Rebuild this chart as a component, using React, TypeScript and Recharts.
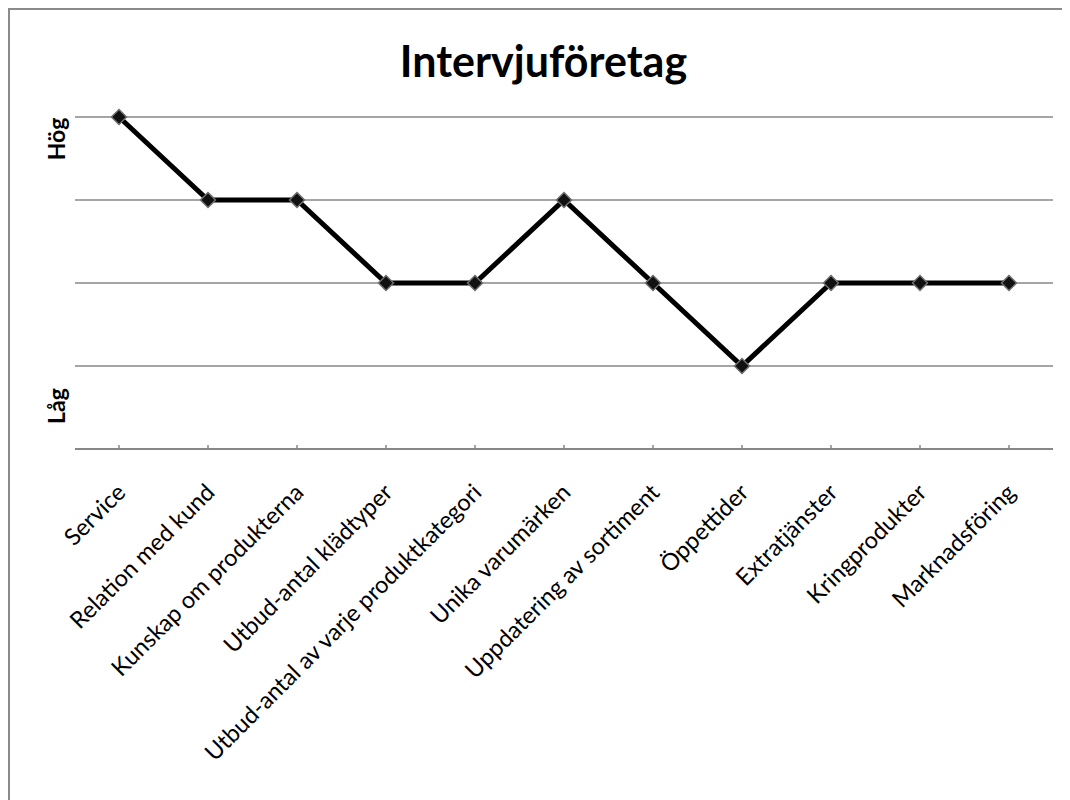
import { LineChart, Line, XAxis, YAxis, CartesianGrid } from "recharts";

const categories = [
  "Service",
  "Relation med kund",
  "Kunskap om produkterna",
  "Utbud-antal klädtyper",
  "Utbud-antal av varje produktkategori",
  "Unika varumärken",
  "Uppdatering av sortiment",
  "Öppettider",
  "Extratjänster",
  "Kringprodukter",
  "Marknadsföring",
];

const ratings = [4, 3, 3, 2, 2, 3, 2, 1, 2, 2, 2];

const levelTicks = [0, 1, 2, 3, 4];

const data = categories.map((name, i) => ({ name, value: ratings[i] }));

const GRID = "#878787";
const FONT = "Lato, 'Open Sans', sans-serif";

function CategoryTick(props: any) {
  const { x, y, payload } = props;
  const tx = x + 8;
  const ty = y + 45;
  return (
    <g>
      <line x1={x} y1={y} x2={x} y2={y - 4} stroke={GRID} strokeWidth={1.5} />
      <text
        x={tx}
        y={ty}
        textAnchor="end"
        transform={`rotate(-45, ${tx}, ${ty})`}
        fontSize={23.5}
        fontFamily={FONT}
        fill="#000"
      >
        {payload.value}
      </text>
    </g>
  );
}

function Diamond(props: any) {
  const { cx, cy, index } = props;
  if (cx == null || cy == null) return <g key={index} />;
  const r = 7.5;
  return (
    <polygon
      key={index}
      points={`${cx},${cy - r} ${cx + r},${cy} ${cx},${cy + r} ${cx - r},${cy}`}
      fill="#111"
      stroke="#6e6e6e"
      strokeWidth={1.5}
    />
  );
}

export default function App() {
  return (
    <>
      <style>{`html, body { overflow: hidden; }`}</style>
      <div
        style={{
          position: "relative",
          width: 1062,
          height: 792,
          boxSizing: "border-box",
          borderTop: "2px solid #8a8a8a",
          borderLeft: "2px solid #8a8a8a",
          background: "#fff",
          overflow: "hidden",
        }}
      >
        <LineChart
          width={1060}
          height={790}
          data={data}
          margin={{ top: 107, right: 17, bottom: 51, left: 65 }}
        >
          <CartesianGrid vertical={false} stroke={GRID} strokeWidth={1.5} />
          <XAxis
            dataKey="name"
            interval={0}
            height={300}
            padding={{ left: 44, right: 44 }}
            tickSize={0}
            tickMargin={0}
            axisLine={{ stroke: GRID, strokeWidth: 2 }}
            tickLine={false}
            tick={<CategoryTick />}
          />
          <YAxis
            domain={[0, 4]}
            ticks={levelTicks}
            interval={0}
            width={0}
            axisLine={false}
            tickLine={false}
            tick={() => <g />}
          />
          <Line
            type="linear"
            dataKey="value"
            stroke="#000"
            strokeWidth={5}
            dot={(p: any) => <Diamond key={p.index} {...p} />}
            activeDot={false}
            isAnimationActive={false}
          />
        </LineChart>
        <svg
          width={1060}
          height={790}
          style={{ position: "absolute", left: 0, top: 0, pointerEvents: "none" }}
        >
          <text
            x={533.5}
            y={67}
            textAnchor="middle"
            fontSize={43}
            fontWeight={700}
            fontFamily={FONT}
            fill="#000"
          >
            Intervjuföretag
          </text>
          <text
            x={55}
            y={129}
            textAnchor="middle"
            transform="rotate(-90, 55, 129)"
            fontSize={23}
            fontWeight={700}
            fontFamily={FONT}
            fill="#000"
          >
            Hög
          </text>
          <text
            x={55}
            y={396}
            textAnchor="middle"
            transform="rotate(-90, 55, 396)"
            fontSize={23}
            fontWeight={700}
            fontFamily={FONT}
            fill="#000"
          >
            Låg
          </text>
        </svg>
      </div>
    </>
  );
}
